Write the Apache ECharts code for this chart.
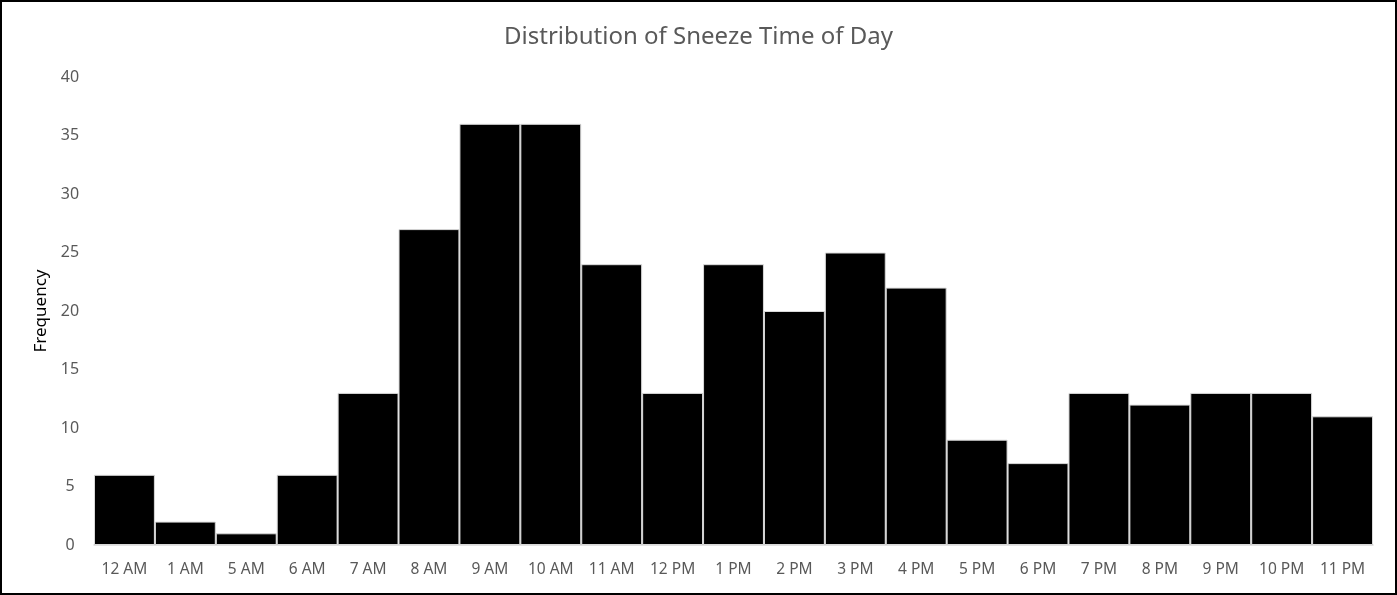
<!DOCTYPE html>
<html>
<head>
<meta charset="utf-8">
<script src="https://cdn.jsdelivr.net/npm/echarts@6/dist/echarts.min.js"></script>
<style>
  html, body { margin: 0; padding: 0; background: #fff; }
  #frame { width: 1397px; height: 595px; box-sizing: border-box; border: 2px solid #000; }
  #chart { width: 1393px; height: 591px; }
</style>
</head>
<body>
<div id="frame"><div id="chart"></div></div>
<script>
var hours = ['12 AM', '1 AM', '5 AM', '6 AM', '7 AM', '8 AM', '9 AM', '10 AM', '11 AM', '12 PM',
  '1 PM', '2 PM', '3 PM', '4 PM', '5 PM', '6 PM', '7 PM', '8 PM', '9 PM', '10 PM', '11 PM'];
var frequency = [6, 2, 1, 6, 13, 27, 36, 36, 24, 13, 24, 20, 25, 22, 9, 7, 13, 12, 13, 13, 11];

(function () {
  var font = '"Noto Sans", "Liberation Sans", sans-serif';
  var grey = '#595959';
  var chart = echarts.init(document.getElementById('chart'), null, { renderer: 'canvas' });

  chart.setOption({
    animation: false,
    title: {
      text: 'Distribution of Sneeze Time of Day',
      left: 'center',
      top: 18,
      textStyle: { color: grey, fontSize: 24, fontWeight: 'normal', fontFamily: font }
    },
    grid: { left: 92, right: 22, top: 75, bottom: 48 },
    xAxis: {
      type: 'category',
      data: hours,
      axisLine: { lineStyle: { color: '#d9d9d9', width: 1.5 } },
      axisTick: { show: false },
      axisLabel: { color: grey, fontSize: 15.5, fontFamily: font, margin: 17, interval: 0 }
    },
    yAxis: {
      type: 'value',
      min: 0,
      max: 40,
      interval: 5,
      name: 'Frequency',
      nameLocation: 'middle',
      nameGap: 44,
      nameMoveOverlap: false,
      nameTextStyle: { color: '#000', fontSize: 17, fontFamily: font },
      axisLine: { show: false },
      axisTick: { show: false },
      splitLine: { show: false },
      axisLabel: { color: grey, fontSize: 16, fontFamily: font, margin: 24, align: 'center' }
    },
    series: [{
      type: 'bar',
      data: frequency,
      barWidth: '100%',
      itemStyle: { color: '#000', borderColor: '#d9d9d9', borderWidth: 1 }
    }]
  });

  window.addEventListener('resize', function () { chart.resize(); });
})();
</script>
</body>
</html>
